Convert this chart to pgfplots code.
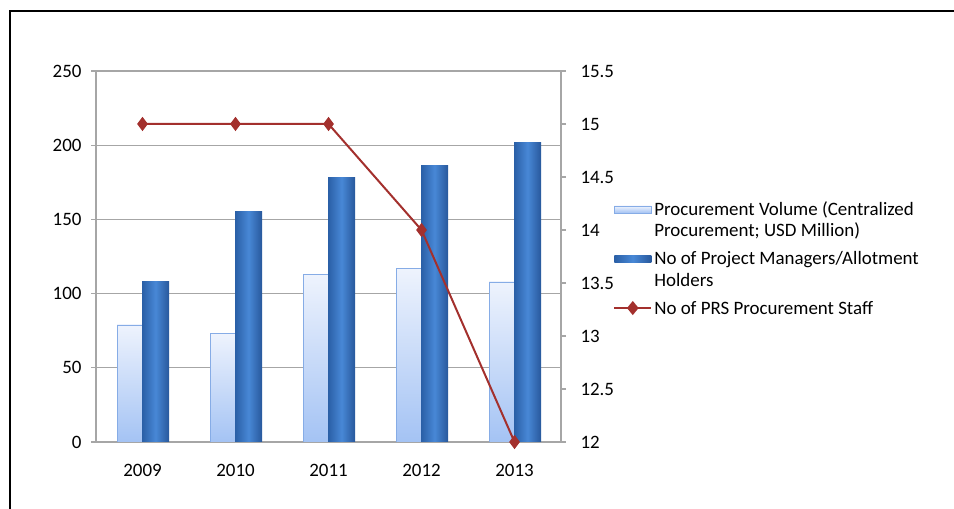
\documentclass[border=0pt]{standalone}
\usepackage{pgfplots}
\pgfplotsset{compat=1.18}
\usepackage{fontspec}
\setmainfont{Carlito}
\definecolor{lightTop}{HTML}{EEF3FD}
\definecolor{lightBot}{HTML}{A4C3F4}
\definecolor{lightEdge}{HTML}{86ACE6}
\definecolor{darkL}{HTML}{2A5FA6}
\definecolor{darkM}{HTML}{4888D6}
\definecolor{darkR}{HTML}{28589C}
\definecolor{lineRed}{HTML}{A3302D}
\definecolor{gridGray}{HTML}{A6A6A6}
\pgfplotsset{
  lightbar/.style={ybar, bar width=25bp, bar shift=-13bp, draw=lightEdge, top color=lightTop, bottom color=lightBot},
  darkbar/.style={ybar, bar width=27bp, bar shift=13bp, draw=none, left color=darkL, right color=darkR, middle color=darkM},
}
\begin{document}
\begin{tikzpicture}[x=1bp,y=1bp]
\useasboundingbox (0,0) rectangle (954,509);
\draw[line width=2bp] (10,0) -- (10,498) -- (954,498);
\begin{axis}[
  at={(96bp,67bp)}, anchor=south west, scale only axis,
  width=465bp, height=371bp,
  xmin=-0.5, xmax=4.5, ymin=0, ymax=250,
  xtick={0,...,4}, xticklabels={2009,2010,2011,2012,2013},
  ytick={0,50,...,250},
  axis lines*=left,
  axis line style={draw=gridGray, line width=1.2bp},
  ymajorgrids, grid style={draw=gridGray, line width=1.2bp},
  tick align=outside, major tick length=5bp,
  ytick style={draw=gridGray, line width=1.2bp},
  xtick style={draw=none},
  ticklabel style={font=\fontsize{19}{22}\selectfont, text=black},
  /pgf/number format/assume math mode=true,
  yticklabel style={xshift=-6bp},
  xticklabel style={yshift=-14bp},
]
% Procurement Volume (light bars)
\addplot[lightbar] coordinates {(0,79)};
\addplot[lightbar] coordinates {(1,73)};
\addplot[lightbar] coordinates {(2,113)};
\addplot[lightbar] coordinates {(3,117)};
\addplot[lightbar] coordinates {(4,108)};
% No of Project Managers (dark bars)
\addplot[darkbar] coordinates {(0,108)};
\addplot[darkbar] coordinates {(1,155)};
\addplot[darkbar] coordinates {(2,178)};
\addplot[darkbar] coordinates {(3,186)};
\addplot[darkbar] coordinates {(4,202)};
\end{axis}
\begin{axis}[
  at={(96bp,67bp)}, anchor=south west, scale only axis,
  width=465bp, height=371bp,
  xmin=-0.5, xmax=4.5, ymin=12, ymax=15.5,
  axis x line=none, axis y line*=right,
  ytick={12,12.5,...,15.5},
  axis line style={draw=gridGray, line width=1.2bp},
  tick align=outside, major tick length=5bp,
  ytick style={draw=gridGray, line width=1.2bp},
  ticklabel style={font=\fontsize{19}{22}\selectfont, text=black},
  /pgf/number format/assume math mode=true,
  yticklabel style={xshift=11bp},
  clip=false,
  legend cell align=left,
  legend style={draw=none, fill=none, at={(1.112,0.655)}, anchor=north west,
    font=\fontsize{19}{22}\selectfont, text=black, inner sep=0pt,
    row sep=9bp,
    cells={anchor=base west, align=left}},
]
\addlegendimage{legend image code/.code={\path[draw=lightEdge, top color=lightTop, bottom color=lightBot] (0bp,24bp) rectangle (37bp,31bp);}}
\addlegendentry{Procurement Volume (Centralized\\Procurement; USD Million)}
\addlegendimage{legend image code/.code={\path[draw=none, left color=darkL, right color=darkR, middle color=darkM] (0bp,24bp) rectangle (37bp,31bp);}}
\addlegendentry{No of Project Managers/Allotment\\Holders}
\addplot[lineRed, line width=2bp, mark=diamond*, mark size=5.5bp, mark options={fill=lineRed},
  legend image code/.code={\draw[lineRed, line width=2bp] (0bp,6bp) -- (37bp,6bp); \fill[lineRed] (18.5bp,11.5bp) -- (23bp,6bp) -- (18.5bp,0.5bp) -- (14bp,6bp) -- cycle;}]
  coordinates {(0,15) (1,15) (2,15) (3,14) (4,12)};
\addlegendentry{No of PRS Procurement Staff}
\end{axis}
\end{tikzpicture}
\end{document}
